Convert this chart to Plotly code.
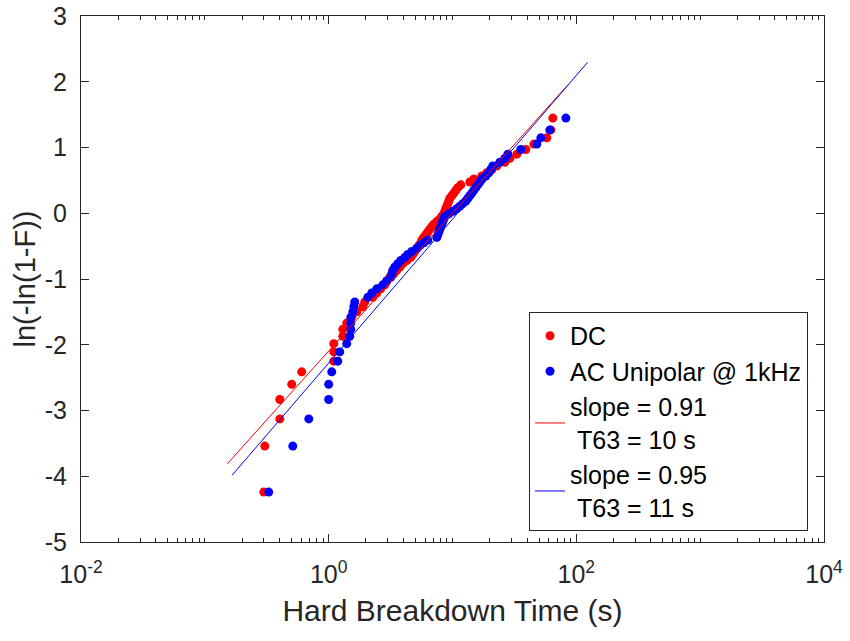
import plotly.graph_objects as go
import numpy as np

# Weibull plotting positions ln(-ln(1-F)), F = i/(n+1), n = 69 (shared by both series)
rank_y = [-4.241, -3.541, -3.128, -2.833, -2.602, -2.412, -2.250, -2.109, -1.983, -1.870,
          -1.766, -1.671, -1.583, -1.500, -1.422, -1.349, -1.279, -1.213, -1.150, -1.089,
          -1.031, -0.975, -0.920, -0.868, -0.817, -0.767, -0.719, -0.672, -0.626, -0.581,
          -0.536, -0.493, -0.450, -0.408, -0.367, -0.326, -0.285, -0.245, -0.205, -0.166,
          -0.126, -0.087, -0.049, -0.010, 0.029, 0.068, 0.107, 0.146, 0.186, 0.225,
          0.266, 0.306, 0.347, 0.389, 0.432, 0.476, 0.521, 0.567, 0.616, 0.666,
          0.719, 0.774, 0.834, 0.899, 0.970, 1.052, 1.147, 1.268, 1.447]

# Hard breakdown times (s), DC stress
dc_time = [0.299, 0.305, 0.403, 0.403, 0.503, 0.606, 1.10, 1.10, 1.10, 1.30,
           1.30, 1.40, 1.537, 1.687, 1.886, 1.957, 2.27, 2.446, 2.635, 2.84,
           2.946, 3.115, 3.357, 3.549, 3.752, 3.968, 4.275, 4.605, 4.779, 4.96,
           5.149, 5.344, 5.546, 5.649, 5.863, 6.085, 6.316, 6.556, 6.804, 7.063,
           7.468, 7.896, 8.195, 8.506, 8.666, 8.829, 8.995, 9.164, 9.336, 9.511,
           9.87, 10.24, 10.63, 11.04, 11.67, 13.80, 14.86, 17.25, 18.93, 20.77,
           22.80, 26.46, 29.03, 33.07, 39.09, 45.38, 57.77, 62.23, 64.59]

# Hard breakdown times (s), AC unipolar @ 1 kHz
ac_time = [0.328, 0.513, 0.691, 1.00, 1.00, 1.059, 1.184, 1.229, 1.40, 1.48,
           1.509, 1.509, 1.509, 1.566, 1.595, 1.625, 2.07, 2.23, 2.446, 2.735,
           2.946, 3.174, 3.234, 3.295, 3.420, 3.616, 3.823, 4.119, 4.355, 4.692,
           5.149, 5.444, 5.863, 6.316, 7.468, 7.608, 7.750, 7.896, 8.044, 8.195,
           8.349, 8.506, 8.666, 9.336, 10.06, 10.83, 11.46, 12.11, 12.81, 13.29,
           13.80, 14.32, 14.86, 15.43, 16.01, 16.62, 17.25, 18.58, 19.65, 20.39,
           21.16, 24.10, 26.46, 27.97, 35.63, 47.96, 51.68, 61.08, 82.29]

# Weibull fits (slope beta, T63 scale) and fit-line time span
dc_slope, dc_t63, dc_fit_t = 0.91, 10.0, [0.152, 86.0]
ac_slope, ac_t63, ac_fit_t = 0.95, 11.0, [0.166, 123.0]

series_names = ["DC", "AC Unipolar @ 1kHz",
                "slope = 0.91<br>\u00a0T63 = 10 s", "slope = 0.95<br>\u00a0T63 = 11 s"]

x_tickvals = [0.01, 1, 100, 10000]
x_ticktext = ["10<sup>-2</sup>", "10<sup>0</sup>", "10<sup>2</sup>", "10<sup>4</sup>"]
y_tickvals = [-5, -4, -3, -2, -1, 0, 1, 2, 3]
y_ticktext = ["-5", "-4", "-3", "-2", "-1", "0", "1", "2", "3"]
x_minor = [m * 10.0 ** e for e in range(-2, 4) for m in range(1, 10)
           if not (m == 1 and e % 2 == 0)]

def fit_y(t, beta, eta):
    return [beta * (np.log(v) - np.log(eta)) for v in t]

AX = "#262626"
FONT = "Liberation Sans, Arial, sans-serif"

fig = go.Figure()
fig.add_trace(go.Scatter(x=dc_time, y=rank_y, mode="markers", name=series_names[0],
                         marker=dict(color="#ff0000", size=9)))
fig.add_trace(go.Scatter(x=ac_time, y=rank_y, mode="markers", name=series_names[1],
                         marker=dict(color="#0000ff", size=9)))
fig.add_trace(go.Scatter(x=dc_fit_t, y=fit_y(dc_fit_t, dc_slope, dc_t63), mode="lines",
                         name=series_names[2], line=dict(color="#ff0000", width=1)))
fig.add_trace(go.Scatter(x=ac_fit_t, y=fit_y(ac_fit_t, ac_slope, ac_t63), mode="lines",
                         name=series_names[3], line=dict(color="#0000ff", width=1)))

fig.update_layout(
    width=850, height=641,
    margin=dict(l=81, r=26, t=16, b=99),
    paper_bgcolor="white", plot_bgcolor="white",
    font=dict(family=FONT, color=AX, size=25),
    showlegend=True,
    legend=dict(x=0.603, xanchor="left", y=0.021, yanchor="bottom",
                bgcolor="white", bordercolor=AX, borderwidth=1,
                font=dict(size=25, color="#000000"), traceorder="normal"),
    xaxis=dict(type="log", range=[-2, 4], tickmode="array", tickvals=x_tickvals,
               ticktext=x_ticktext, ticks="inside", ticklen=8, tickcolor=AX,
               showline=True, linecolor=AX, linewidth=1, mirror="ticks",
               showgrid=False, zeroline=False, ticklabelstandoff=10, automargin=False,
               minor=dict(tickmode="array", tickvals=x_minor, ticks="inside",
                          ticklen=4, tickcolor=AX, showgrid=False),
               title=dict(text="Hard Breakdown Time (s)", font=dict(size=30), standoff=12)),
    yaxis=dict(range=[-5, 3], tickmode="array", tickvals=y_tickvals, ticktext=y_ticktext,
               ticks="inside", ticklen=8, tickcolor=AX, automargin=False,
               showline=True, linecolor=AX, linewidth=1, mirror="ticks",
               showgrid=False, zeroline=False, ticklabelstandoff=8,
               title=dict(text="ln(-ln(1-F))", font=dict(size=29), standoff=0)),
)

fig.write_html("out.html")
